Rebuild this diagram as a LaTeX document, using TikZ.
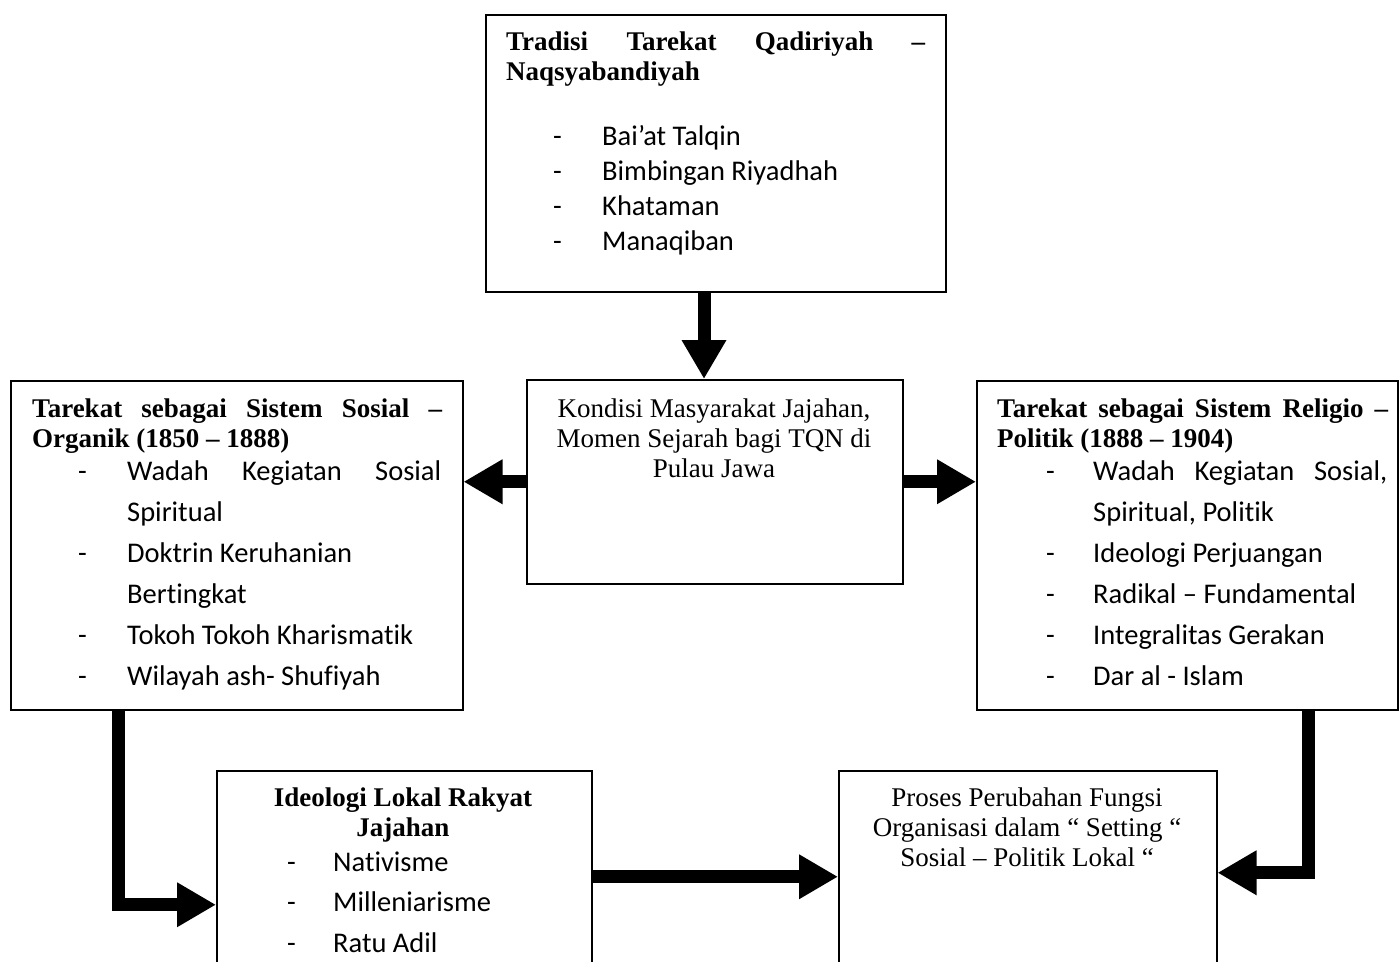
\documentclass[tikz,border=0pt]{standalone}
\usepackage{fontspec}
\setmainfont{Liberation Serif}
\newfontfamily\calibri[Ligatures={NoCommon}]{Carlito}
\usetikzlibrary{arrows.meta}

\begin{document}
\begin{tikzpicture}[x=1pt,y=-1pt]
      \useasboundingbox (0,0) rectangle (1399,961);
      \clip (0,0) rectangle (1399,961);
      \tikzstyle {frame} = [shape=rectangle, draw=black, line width=1.5pt, inner sep=0pt, anchor=north west];
      \tikzstyle {serif} = [inner sep=0pt, anchor=base west, font=\fontsize{27}{30}\selectfont];
      \tikzstyle {head} = [serif, font=\fontsize{27}{30}\selectfont\bfseries];
      \tikzstyle {items} = [inner sep=0pt, anchor=base west, font=\calibri\fontsize{28.5}{41}\selectfont];
      \tikzstyle {fat} = [line width=13pt, -{Triangle[length=39pt, width=42pt]}];
      % top box
      \node (tq) [frame, minimum width=460pt, minimum height=277pt] at (485,14) {};
      \node (tqh) [head] at (506,50) {\begin{tabular}[t]{@{}l@{}}\makebox[419pt][s]{Tradisi Tarekat Qadiriyah –}\\ Naqsyabandiyah\end{tabular}};
      \node (tql) [items, font=\calibri\fontsize{28.5}{35}\selectfont] at (553,145) {\begin{tabular}[t]{@{}p{49pt}@{}l@{}}
        - & Bai’at Talqin\\ - & Bimbingan Riyadhah\\ - & Khataman\\ - & Manaqiban\end{tabular}};
      % middle row
      \node (km) [frame, minimum width=376pt, minimum height=204pt] at (526,379) {};
      \node (kmt) [serif, anchor=base] at (714,417) {\begin{tabular}[t]{@{}c@{}}Kondisi Masyarakat Jajahan,\\ Momen Sejarah bagi TQN di\\ Pulau Jawa\end{tabular}};
      \node (ss) [frame, minimum width=452pt, minimum height=329pt] at (10,380) {};
      \node (ssh) [head] at (32,417) {\begin{tabular}[t]{@{}l@{}}\makebox[410pt][s]{Tarekat sebagai Sistem Sosial –}\\ Organik (1850 – 1888)\end{tabular}};
      \node (ssl) [items] at (78,480) {\begin{tabular}[t]{@{}p{49pt}@{}l@{}}
        - & \makebox[314pt][s]{Wadah Kegiatan Sosial}\\ & Spiritual\\ - & Doktrin Keruhanian\\ & Bertingkat\\
        - & Tokoh Tokoh Kharismatik\\ - & Wilayah ash- Shufiyah\end{tabular}};
      \node (rp) [frame, minimum width=421pt, minimum height=329pt] at (976,380) {};
      \node (rph) [head] at (997,417) {\begin{tabular}[t]{@{}l@{}}\makebox[391pt][s]{Tarekat sebagai Sistem Religio –}\\ Politik (1888 – 1904)\end{tabular}};
      \node (rpl) [items] at (1046,480) {\begin{tabular}[t]{@{}p{47pt}@{}l@{}}
        - & \makebox[294pt][s]{Wadah Kegiatan Sosial,}\\ & Spiritual, Politik\\ - & Ideologi Perjuangan\\
        - & Radikal – Fundamental\\ - & Integralitas Gerakan\\ - & Dar al - Islam\end{tabular}};
      % bottom row
      \node (il) [frame, minimum width=375pt, minimum height=268pt] at (216,770) {};
      \node (ilh) [head, anchor=base] at (403,806) {\begin{tabular}[t]{@{}c@{}}Ideologi Lokal Rakyat\\ Jajahan\end{tabular}};
      \node (ill) [items, font=\calibri\fontsize{28.5}{40.5}\selectfont] at (287,871) {\begin{tabular}[t]{@{}p{46pt}@{}l@{}}
        - & Nativisme\\ - & Milleniarisme\\ - & Ratu Adil\end{tabular}};
      \node (pp) [frame, minimum width=378pt, minimum height=204pt] at (838,770) {};
      \node (ppt) [serif, anchor=base] at (1027,806) {\begin{tabular}[t]{@{}c@{}}Proses Perubahan Fungsi\\ Organisasi dalam “ Setting “\\ Sosial – Politik Lokal “\end{tabular}};
      % arrows
      \coordinate (a1) at (704,0);
      \coordinate (c1) at (118,904);
      \coordinate (c2) at (1308,872);
      \draw [fat] (tq.south -| a1) -- (km.north -| a1);
      \draw [fat] (km.west) -- (km.west -| ss.east);
      \draw [fat] (km.east) -- (km.east -| rp.west);
      \draw [fat] (ss.south -| c1) |- (il.west);
      \draw [fat] ([yshift=28pt]il.east) -- ([yshift=28pt]il.east -| pp.west);
      \draw [fat] (rp.south -| c2) |- (pp.east);
    \end{tikzpicture}
\end{document}
